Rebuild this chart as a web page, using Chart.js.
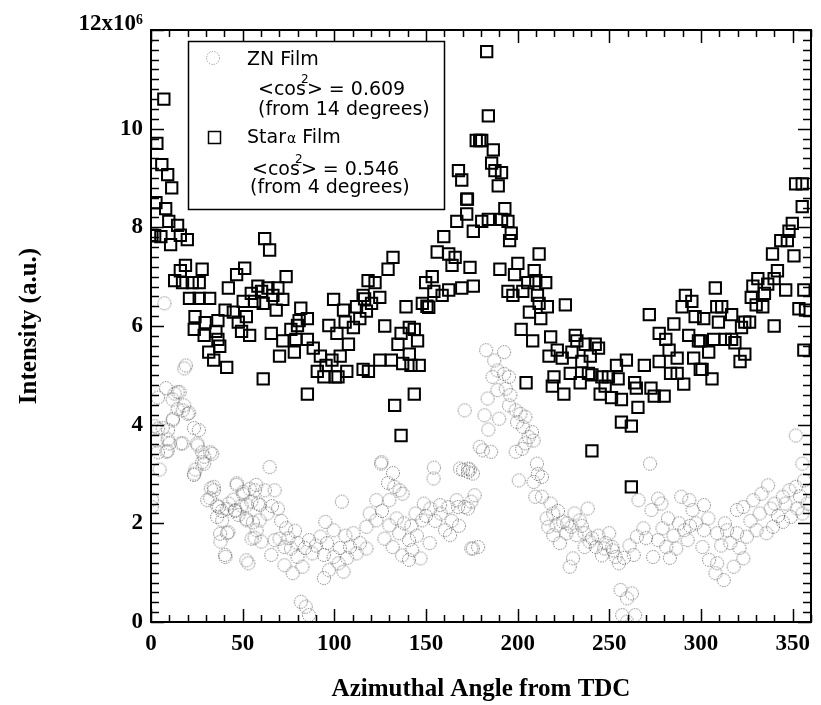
<!DOCTYPE html>
<html><head><meta charset="utf-8">
<script src="https://cdn.jsdelivr.net/npm/chart.js@4"></script>
<style>html,body{margin:0;padding:0;background:#fff}canvas{display:block}</style>
</head><body>
<canvas id="c" width="821" height="705"></canvas>
<script>
// ---- data (intensity in units of 10^6) ----
const starAngle = [0.5,2,3.2,5.9,7,9.1,11.3,2.7,8,9.7,14.5,5.4,10.7,16,19.8,16,18.8,27.9,12.9,17.2,22.5,26.3,21,26.3,32,24,29.5,23.6,29,36.5,35.4,36.5,37.5,31.5,34.2,41.3,40.4,42.2,46.7,51.1,44.9,50.3,54.7,56.5,58.3,52,49.4,53.8,47.6,
62,64.7,73.7,69.2,60.3,63.8,66.5,61.2,68.3,71.9,81.7,85.3,80.8,76.3,79.9,65.6,71.9,79,85.3,70.1,78.2,61.2,85.3,99.6,105,97,101.4,105.9,112.1,118.4,115.7,113.9,110.4,107.7,103.2,98.7,92.4,90.7,94.3,106.8,115.7,88.5,95.5,100.5,102,116.5,117.5,
120.3,122.2,124.8,127.5,129.3,132,118.6,124.8,131.1,134.7,136.4,137.3,139.1,140.9,140.9,141.8,143.6,143.6,145.4,146.3,132.9,136.4,148,149.8,153.4,154.3,156.1,158.8,159.7,162.4,162.4,164.2,165.9,166.8,167.7,169.5,169.5,172.2,172.6,172.2,174,175.8,175.8,179.3,150.5,151.5,177.4,
183.1,184,180.4,186.7,185.8,187.6,191.2,189.4,193,184,180.4,191.2,194.7,196.5,195.6,211.7,190.3,200.1,198.3,209,205.5,209.9,215.3,194.7,197.4,202.8,210.8,211.7,216.2,226,206.4,212.6,201.9,208.2,218,221.6,231.4,232.3,236.8,217.1,224.3,229.6,235,219.8,218.9,225.2,228.7,234.1,238.6,204.6,240.5,
262,242.3,239.6,244.1,240.5,245.9,249.5,254.8,253.9,259.3,245,251.2,256.6,247.7,263.8,264.7,265.6,256.6,262,269.1,271.8,272.7,274.5,279.9,277.2,277.2,280.8,285.2,282.6,287,283.4,287,290.6,291.5,289.7,295,296.8,293.3,298.6,296,299.6,
351.6,355.2,355.2,349.8,348,343.5,347.1,339,350.7,341.7,339.9,346.2,336.4,331,328.3,334.6,327.4,330.1,333.7,356.1,353.4,357,307.8,308.6,311.3,301.5,309.5,316.7,323.9,326.5,322.1,339.9,306.9,313.2,316.7,318.5,299.7,304.2,323.9,321.3,300.6,306,356.1];
const starValue = [7.84,7.83,9.7,9.27,10.6,9.07,8.8,8.5,8.38,8.12,8.04,7.81,7.65,7.84,7.75,7.12,7.23,7.15,6.92,6.88,6.88,6.88,6.56,6.56,6.56,6.19,6.07,5.93,5.81,6.11,5.89,5.73,5.59,5.47,5.31,5.16,6.32,6.77,7.04,7.17,6.28,6.5,6.66,6.5,6.81,6.19,5.89,5.81,6.08,
7.77,7.54,7.0,6.77,6.7,6.77,6.62,6.46,6.32,6.54,6.36,6.15,6.11,5.93,6.01,5.85,5.7,5.73,5.73,5.39,5.47,4.93,4.62,6.54,6.32,6.01,5.85,6.08,6.39,6.92,6.62,6.15,5.97,5.63,5.39,5.31,5.39,5.08,4.97,5.08,5.12,5.55,5.2,4.97,4.97,6.55,6.3,
6.46,6.88,6.58,6.0,7.15,7.39,5.08,5.31,5.31,5.63,5.85,5.24,6.39,5.97,5.43,5.2,5.93,4.62,5.7,5.2,4.39,3.78,6.46,6.88,7.0,6.7,7.5,6.62,7.81,7.46,6.73,7.23,7.39,8.12,9.15,8.96,6.77,8.57,8.57,8.27,7.19,7.92,6.81,9.76,6.4,6.38,9.76,
11.56,10.26,9.76,9.57,9.3,9.15,9.11,8.84,8.38,8.16,8.12,8.16,8.12,7.88,7.73,7.46,7.15,7.27,7.04,7.12,6.88,6.92,6.88,6.7,6.62,6.7,6.62,6.46,6.39,6.43,6.28,6.15,5.93,5.7,5.78,5.51,5.81,5.7,5.63,5.39,5.35,5.47,5.28,4.97,4.78,4.62,5.04,4.85,5.04,4.85,3.47,
2.74,5.63,5.39,5.55,5.01,4.97,4.97,4.93,5.2,5.31,4.62,4.55,4.51,4.78,4.85,4.74,4.35,4.05,3.97,5.2,6.23,4.74,4.58,4.58,5.28,5.85,5.73,6.04,5.51,5.35,5.04,5.04,4.82,6.62,6.39,6.5,6.19,5.81,5.7,5.35,5.12,
8.88,8.88,8.42,8.08,7.92,7.73,7.73,7.46,7.42,7.12,6.96,6.73,6.85,6.96,6.81,6.66,6.58,6.43,6.39,6.73,6.35,6.32,6.77,6.39,6.39,6.15,6.08,6.23,6.08,6.08,5.97,6.0,5.73,5.73,5.73,5.66,5.7,5.47,5.43,5.28,5.12,4.93,5.51];

const znAngle = [7.3,19,18.2,8.2,14.5,3.8,11.8,12.9,15.6,18.1,20.8,14.5,17.3,20,12,2,6.4,11.8,23.4,26.1,3.9,9.3,9.1,16.3,25.2,3.1,10.2,17.3,25.4,3.8,9.1,8.4,27.9,32.3,33.4,29,27.9,29,4.7,24.3,23.4,23.6,0.5,0.4,34.2,32.6,34.3,32.3,30.7,35.9,38.6,37,46.7,46.8,50.3,50.4,53.8,57.4,56.7,44.9,42.4,41.3,45.8,46,49.4,52.2,54.7,58.3,59.4,52,55.6,59.2,36.1,47.7,52.2,38.8,37.7,42.2,41.5,37.9,54.9,56.5,57.6,40.4,40.6,52,53.1,
60.2,62.1,64.7,67.4,69.2,67.4,70.1,73.7,72.8,76.3,65.6,79.9,82.6,86.2,92.4,95.1,99.6,88,94.3,99.6,72.8,77.3,94.3,97,105,102.3,81.7,84.4,86.2,104.1,108.5,112.1,117.5,110.4,117.5,119.3,75,80,84,90,103,106,114,63.5,66,71,78.5,96,107,
122.9,130,132.7,137.2,122.9,130,135.4,127.3,131.8,140.7,142.5,140.7,147,144.3,148.8,152.4,157.7,162.2,166.7,171.1,174.7,160.4,163.1,174.7,147.9,170.2,125.5,172.9,171.1,154.1,125.7,132,154.3,174,179.3,135.6,129.3,178.4,167.5,172.9,176.5,175.6,168.5,172.9,175.6,126,134,138,142,150,155,158,164,168,145,152,137,
182.8,192.6,187.2,189,192.6,186.3,195.3,189,193.5,183.6,181.9,189.9,195.3,198.9,201.5,204.2,199.7,207.8,206,204.2,208.7,181,185.5,198.9,202.4,210.5,200.6,208.7,213.2,209.6,213.2,215.8,219.4,216.7,221.2,224.8,229.3,233.8,219.4,226.6,232,236.5,239.2,238.2,230.2,228.4,236.5,184,196,203,211,218,222,227,231,235,223,
242.7,247.2,249.9,251.6,253.4,255.2,263.3,256.1,262.3,259.7,257,264.1,259.7,265,268.6,265.9,273,276.6,278.4,282,276.6,273.9,281.1,286.5,289.2,293.6,295.4,272.2,290.9,297.2,292.7,244,248,252,258,261,270,279,285,288,294,283,240.5,246,
301.6,301.6,300.8,304.4,308.8,312.4,307.9,317.8,323.1,308.8,314.2,319.6,325,330.3,335.7,339.3,344.6,349,352.6,355.3,319.6,323.1,328.5,333,336.6,340.1,344.6,348.2,351.7,351.7,355.3,356.2,304,311,316,321,327,332,338,342,346,354,358,313];
const znValue = [6.46,5.2,5.14,4.74,4.66,4.55,4.51,4.63,4.66,4.39,4.24,4.32,4.29,4.22,4.12,3.97,3.93,4.09,3.93,3.89,3.92,3.89,3.7,3.62,3.62,3.68,3.62,3.62,3.58,3.44,3.47,3.45,3.44,3.44,3.41,3.35,3.24,3.21,3.09,3.09,2.98,3.01,2.48,2.33,2.74,2.71,2.67,2.51,2.47,2.36,2.25,2.33,2.78,2.81,2.59,2.64,2.7,2.78,2.67,2.48,2.4,2.29,2.25,2.27,2.36,2.37,2.44,2.4,2.37,2.09,2.02,2.06,2.13,2.17,2.06,2.06,1.79,1.82,1.8,1.63,1.69,1.71,1.86,1.36,1.32,1.25,1.19,
1.63,2.67,3.14,2.67,2.3,1.66,1.69,1.9,1.52,1.49,1.36,1.32,1.12,1.66,1.73,2.03,1.86,1.39,1.36,1.32,1.15,0.99,0.89,1.05,1.02,1.19,0.41,0.31,0.14,2.44,1.52,1.39,1.49,1.8,1.93,2.2,1.7,1.6,1.5,1.55,1.5,1.75,1.6,2.2,2.35,2.05,1.85,1.6,1.3,
2.47,2.47,2.74,2.6,2.06,1.96,1.8,1.69,1.52,1.66,1.46,1.26,1.29,2.2,2.4,2.3,2.37,2.33,2.47,2.33,2.44,1.86,1.76,1.49,2.06,3.08,3.21,3.11,4.29,2.91,3.24,3.02,3.13,3.09,3.55,2.67,2.82,1.52,2.33,2.3,2.57,1.49,3.11,3.04,3.01,2.25,2.1,2.0,1.95,2.15,2.05,2.2,2.05,1.95,1.75,1.6,1.35,
5.51,5.47,5.3,5.1,5.03,4.97,4.97,4.7,4.73,4.53,4.19,4.12,4.39,4.29,4.22,4.16,4.05,3.85,3.75,3.62,3.68,3.48,3.45,3.45,3.51,3.21,2.87,2.84,2.94,2.54,2.54,2.1,2.2,1.93,1.96,2.03,1.93,2.06,1.76,1.8,1.76,1.8,1.63,2.3,1.29,1.12,1.52,3.9,4.6,3.95,3.0,2.4,2.25,2.0,2.2,1.95,1.6,
1.52,1.49,1.8,1.52,1.32,1.19,1.36,0.65,0.58,0.48,0.14,0.14,0.01,1.73,1.9,2.47,2.27,2.5,2.4,2.1,1.66,1.32,1.52,1.49,2.54,2.47,2.27,3.21,1.86,2.0,1.66,1.75,1.6,1.45,1.3,1.55,1.7,1.9,1.75,2.0,1.95,1.3,1.7,1.35,
2.37,1.86,1.52,1.26,1.19,0.85,0.99,1.12,1.29,1.8,1.86,1.8,1.73,1.86,1.8,1.93,2.03,2.13,2.3,2.2,2.27,2.33,2.47,2.6,2.77,2.4,2.54,2.67,2.74,3.78,3.21,2.87,2.1,1.55,1.6,1.5,2.05,2.2,2.3,2.15,2.4,2.55,2.4,2.0];

const xTickValues = [0,50,100,150,200,250,300,350];
const yTickValues = [0,2,4,6,8,10,12];

// ---- marker images ----
function dottedCircle(r, color) {
  const c = document.createElement('canvas');
  const s = Math.ceil(r * 2 + 3);
  c.width = s; c.height = s;
  const g = c.getContext('2d');
  g.strokeStyle = color; g.lineWidth = 1;
  g.setLineDash([1.3, 1.3]);
  g.beginPath(); g.arc(s / 2, s / 2, r, 0, Math.PI * 2); g.stroke();
  return c;
}
const circleImg = dottedCircle(6.5, '#666');
const legendCircleImg = dottedCircle(6.5, '#9a9a9a');

const serif = "'Liberation Serif','Times New Roman',serif";
const sans = "'DejaVu Sans',Verdana,sans-serif";

const framePlugin = {
  id: 'frame',
  afterDatasetsDraw(chart) {
    const {ctx, chartArea: a, scales: {x, y}} = chart;
    ctx.save();
    ctx.strokeStyle = '#000';
    ctx.lineWidth = 1.5;
    ctx.beginPath();
    for (let v = 0; v <= 360; v += 10) {
      const px = Math.round(x.getPixelForValue(v)) + 0.5;
      const len = v % 50 === 0 ? 13 : 7;
      ctx.moveTo(px, a.bottom); ctx.lineTo(px, a.bottom - len);
      ctx.moveTo(px, a.top); ctx.lineTo(px, a.top + len);
    }
    for (let i = 0; i <= 60; i++) {
      const v = i * 0.2;
      const py = Math.round(y.getPixelForValue(v)) + 0.5;
      const len = i % 10 === 0 ? 13 : 8;
      ctx.moveTo(a.left, py); ctx.lineTo(a.left + len, py);
      ctx.moveTo(a.right, py); ctx.lineTo(a.right - len, py);
    }
    ctx.stroke();
    ctx.lineWidth = 2;
    ctx.strokeRect(a.left, a.top, a.right - a.left, a.bottom - a.top);

    // legend box
    ctx.lineWidth = 1.5;
    ctx.fillStyle = '#fff';
    ctx.fillRect(188.5, 41.5, 256, 168);
    ctx.strokeRect(188.5, 41.5, 256, 168);
    ctx.drawImage(legendCircleImg, 213 - legendCircleImg.width / 2, 58 - legendCircleImg.height / 2);
    ctx.strokeRect(208.5, 131.5, 12, 12);
    ctx.fillStyle = '#000';
    ctx.textBaseline = 'alphabetic';
    ctx.textAlign = 'left';
    const f = '19px ' + sans, fs = '12px ' + sans;
    ctx.font = f;
    ctx.fillText('ZN Film', 247, 65);
    function cosLine(x0, base, val) {
      ctx.font = f;
      ctx.fillText('<cos', x0, base);
      const w = ctx.measureText('<cos').width;
      ctx.font = fs;
      ctx.fillText('2', x0 + w - 5, base - 12);
      ctx.font = f;
      ctx.fillText('> = ' + val, x0 + w + 1, base);
    }
    cosLine(258, 95, '0.609');
    ctx.font = f;
    ctx.fillText('(from 14 degrees)', 258, 115);
    ctx.fillText('Star', 247, 143);
    const ws = ctx.measureText('Star').width;
    ctx.font = '14px ' + sans;
    ctx.fillText('\u03b1', 247 + ws + 1, 143);
    const wa = ctx.measureText('\u03b1').width;
    ctx.font = f;
    ctx.fillText(' Film', 247 + ws + wa + 1, 143);
    cosLine(252, 175, '0.546');
    ctx.font = f;
    ctx.fillText('(from 4 degrees)', 250, 193);
    ctx.restore();
  }
};

new Chart(document.getElementById('c'), {
  type: 'scatter',
  data: {
    datasets: [
      {
        label: 'Star\u03b1 Film',
        data: starAngle.map((a, i) => ({x: a, y: starValue[i]})),
        pointStyle: 'rect',
        pointRadius: 8,
        borderColor: '#000',
        backgroundColor: 'rgba(0,0,0,0)',
        borderWidth: 2
      },
      {
        label: 'ZN Film',
        data: znAngle.map((a, i) => ({x: a, y: znValue[i]})),
        pointStyle: circleImg,
        pointRadius: 7
      }
    ]
  },
  options: {
    responsive: false,
    animation: false,
    events: [],
    layout: {padding: {top: 30, right: 2, left: 0, bottom: 0}},
    plugins: {legend: {display: false}, tooltip: {enabled: false}},
    scales: {
      x: {
        type: 'linear', min: 0, max: 360,
        afterFit(s) { s.height = 83; },
        afterBuildTicks(s) { s.ticks = xTickValues.map(v => ({value: v})); },
        grid: {display: false, drawTicks: false},
        border: {display: false},
        ticks: {
          color: '#000', padding: 8, maxRotation: 0, autoSkip: false,
          font: {family: serif, weight: 'bold', size: 23}
        },
        title: {
          display: true, text: 'Azimuthal Angle from TDC', color: '#000',
          font: {family: serif, weight: 'bold', size: 25},
          padding: {top: 0, bottom: 0}
        }
      },
      y: {
        type: 'linear', min: 0, max: 12,
        afterFit(s) { s.width = 151; },
        afterBuildTicks(s) { s.ticks = yTickValues.map(v => ({value: v})); },
        grid: {display: false, drawTicks: false},
        border: {display: false},
        ticks: {
          color: '#000', padding: 8, autoSkip: false,
          callback: v => v === 12 ? ['12x10\u2076', ''] : String(v),
          font: ctx => ({family: serif, weight: 'bold', size: 23,
                         lineHeight: (ctx.tick && ctx.tick.value === 12) ? 0.5 : 1.2})
        },
        title: {
          display: true, text: 'Intensity (a.u.)', color: '#000',
          font: {family: serif, weight: 'bold', size: 25},
          padding: {top: 15, bottom: 0}
        }
      }
    }
  },
  plugins: [framePlugin]
});
</script>
</body></html>
